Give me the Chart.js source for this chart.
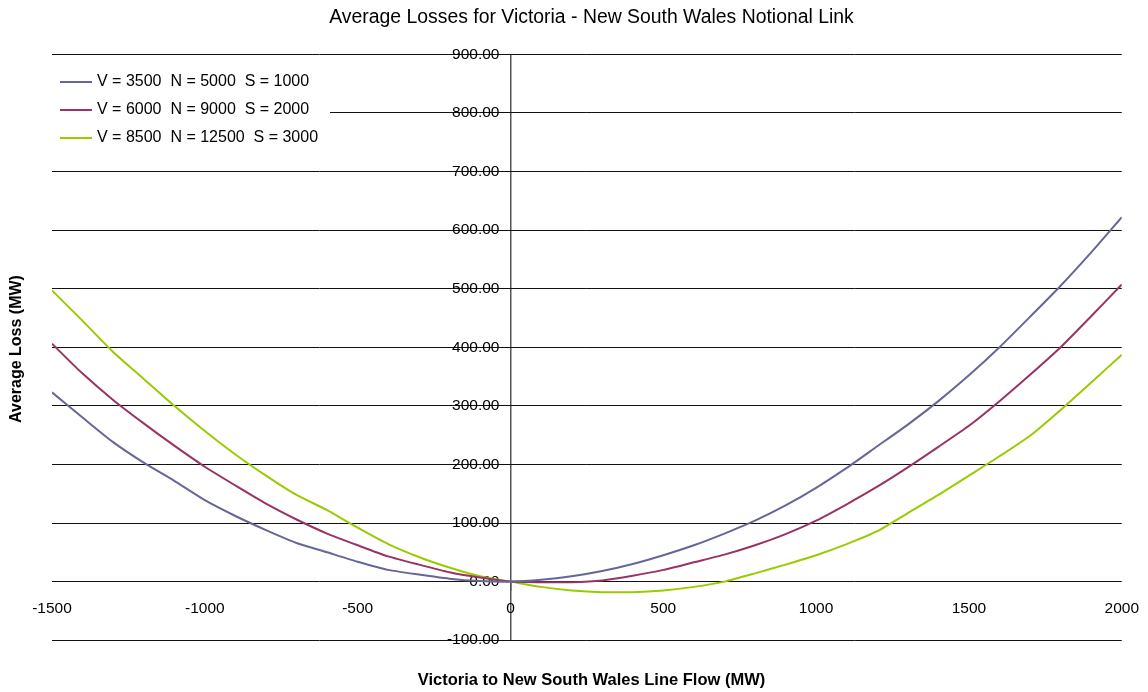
<!DOCTYPE html>
<html>
<head>
<meta charset="utf-8">
<script src="https://cdn.jsdelivr.net/npm/chart.js@4"></script>
<style>
  html, body { margin: 0; padding: 0; background: #fff; }
  #wrap { width: 1148px; height: 692px; }
</style>
</head>
<body>
<div id="wrap"><canvas id="lossChart"></canvas></div>
<script>
// line flow (MW), every 100 MW
var flows = [-1500, -1400, -1300, -1200, -1100, -1000, -900, -800, -700, -600, -500, -400, -300, -200, -100,
    0, 100, 200, 300, 400, 500, 600, 700, 800, 900, 1000, 1100, 1200, 1300, 1400, 1500, 1600, 1700, 1800, 1900, 2000];

// average loss (MW)
var lossLow = [323, 280, 238, 203, 172, 139, 112, 88, 66, 50, 34, 20, 12, 5, 1,
    0, 3, 9, 18, 30, 45, 62, 82, 104, 130, 160, 194, 231, 268, 308, 352, 400, 452, 505, 562, 622];
var lossMid = [406, 355, 310, 270, 232, 196, 164, 133, 106, 82, 62, 43, 29, 16, 7,
    0, -1, -1, 2, 10, 20, 33, 46, 62, 81, 104, 132, 162, 195, 230, 266, 308, 353, 400, 453, 507];
var lossHigh = [497, 445, 392, 346, 300, 257, 217, 181, 148, 122, 92, 64, 42, 24, 9,
    0, -9, -15, -18, -18, -15, -9, 0, 14, 29, 45, 64, 86, 117, 148, 181, 214, 249, 293, 340, 387];

var seriesLabels = ["V = 3500  N = 5000  S = 1000", "V = 6000  N = 9000  S = 2000", "V = 8500  N = 12500  S = 3000"];
var seriesColors = ["#666699", "#993366", "#99CC00"];

var chartTitle = "Average Losses for Victoria - New South Wales Notional Link";
var xTitle = "Victoria to New South Wales Line Flow (MW)";
var yTitle = "Average Loss (MW)";

var FONT = '"Liberation Sans", Arial, sans-serif';

function toPoints(ys) {
    return flows.map(function(x, i) { return {x: x, y: ys[i]}; });
}

// y axis title and the boxed legend inside the plot
var chartDecor = {
    id: "chartDecor",
    afterDraw: function(chart) {
        var ctx = chart.ctx;
        ctx.save();
        ctx.font = "bold 16px " + FONT;
        ctx.fillStyle = "#000";
        ctx.textAlign = "center";
        ctx.textBaseline = "middle";
        ctx.translate(17, 349);
        ctx.rotate(-Math.PI / 2);
        ctx.fillText(yTitle, 0, 0);
        ctx.restore();

        var area = chart.chartArea;
        ctx.save();
        ctx.fillStyle = "#fff";
        ctx.fillRect(area.left - 2, 62, 280, 90);
        ctx.font = "16px " + FONT;
        ctx.textAlign = "left";
        ctx.textBaseline = "middle";
        chart.data.datasets.forEach(function(ds, i) {
            var y = 82 + i * 28;
            ctx.strokeStyle = ds.borderColor;
            ctx.lineWidth = 2;
            ctx.beginPath();
            ctx.moveTo(60, y);
            ctx.lineTo(92, y);
            ctx.stroke();
            ctx.fillStyle = "#000";
            ctx.fillText(ds.label, 97, y);
        });
        ctx.restore();
    }
};

var ctx = document.getElementById("lossChart").getContext("2d");
var lossChart = new Chart(ctx, {
    type: "line",
    data: {
        datasets: [
            {label: seriesLabels[0], data: toPoints(lossLow), borderColor: seriesColors[0]},
            {label: seriesLabels[1], data: toPoints(lossMid), borderColor: seriesColors[1]},
            {label: seriesLabels[2], data: toPoints(lossHigh), borderColor: seriesColors[2]}
        ]
    },
    options: {
        responsive: true,
        maintainAspectRatio: false,
        animation: false,
        layout: {padding: {left: 52, right: 17, top: 0, bottom: 0}},
        elements: {
            point: {radius: 0},
            line: {borderWidth: 2, tension: 0.2, fill: false}
        },
        plugins: {
            legend: {display: false},
            tooltip: {enabled: false},
            title: {
                display: true,
                text: chartTitle,
                color: "#000",
                font: {family: FONT, size: 19.4, weight: "normal"},
                padding: {top: 6, bottom: 25}
            },
            subtitle: {
                display: true,
                position: "bottom",
                text: xTitle,
                color: "#000",
                font: {family: FONT, size: 16.5, weight: "bold"},
                padding: {top: 30, bottom: 2}
            }
        },
        scales: {
            x: {
                type: "linear",
                position: {y: 0},
                min: -1500,
                max: 2000,
                // only the zero line is drawn: it is the vertical axis
                grid: {
                    drawTicks: true,
                    tickLength: 9,
                    lineWidth: 1.5,
                    color: function(c) { return c.tick && c.tick.value === 0 ? "#555" : "rgba(0,0,0,0)"; }
                },
                border: {display: false},
                ticks: {
                    stepSize: 500,
                    color: "#000",
                    padding: 9,
                    font: {family: FONT, size: 15.5},
                    callback: function(v) { return String(v); }
                }
            },
            y: {
                type: "linear",
                // labels sit just left of the zero line
                position: {x: -36},
                min: -100,
                max: 900,
                grid: {color: "#111", lineWidth: 1, drawTicks: false},
                border: {display: false},
                ticks: {
                    stepSize: 100,
                    color: "#000",
                    font: {family: FONT, size: 15.5},
                    callback: function(v) { return v.toFixed(2); }
                }
            }
        }
    },
    plugins: [chartDecor]
});
</script>
</body>
</html>
